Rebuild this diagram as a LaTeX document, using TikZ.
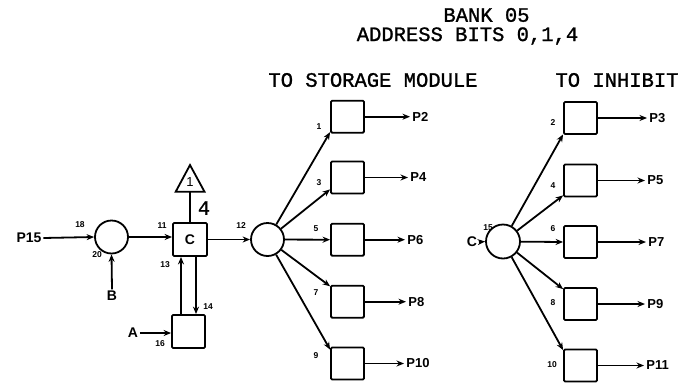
\documentclass[tikz,border=0pt]{standalone}
\usepackage{fontspec}
\setsansfont{Liberation Sans}
\newfontfamily\monofam[FakeBold=1.2]{Liberation Mono}
\usetikzlibrary{arrows.meta}
\begin{document}
\begin{tikzpicture}[x=1pt,y=-1pt,
  line width=1.8pt,
  arr/.style={-{Stealth[length=7.5pt,width=6pt]}},
  circ/.style={draw,circle,minimum size=33pt,inner sep=0pt},
  bx/.style={draw,rectangle,rounded corners=1.2pt,minimum width=33pt,minimum height=32pt,inner sep=0pt},
  hdr/.style={font=\monofam\fontsize{20.5}{22}\selectfont,inner sep=0pt},
  big/.style={font=\sffamily\bfseries\fontsize{14}{15}\selectfont,inner sep=1pt},
  outl/.style={font=\sffamily\bfseries\fontsize{13}{14}\selectfont,inner sep=1.5pt,anchor=west},
  num/.style={font=\sffamily\bfseries\fontsize{8.5}{9}\selectfont,inner sep=0pt}]
\useasboundingbox (0,0) rectangle (687,383);

% headers
\node[hdr] (bank) at (486.5,15) {BANK 05};
\node[hdr] (addr) at (467.5,36) {ADDRESS BITS 0,1,4};
\node[hdr] (tsm) at (373,80) {TO STORAGE MODULE};
\node[hdr] (tinh) at (617,80) {TO INHIBIT};

% left section
\node[big] (p15) at (29,238) {P15};
\node[circ] (c1) at (111.5,237) {};
\node[num] (n18) at (80,225) {18};
\node[num] (n20) at (97,255) {20};
\node[big] (bb) at (112,296) {B};
\node[bx,minimum width=34pt,minimum height=33pt] (cb) at (190,239.5) {\sffamily\bfseries\fontsize{14}{15}\selectfont C};
\node[num] (n11) at (162,226) {11};
\draw (175.7,191.7) -- (190,165) -- (204.5,191.7) -- cycle;
\node[font=\sffamily\fontsize{13}{14}\selectfont,inner sep=0pt] (t1) at (190,182) {1};
\coordinate (tbase) at (190,191.7);
\node[hdr] (four) at (204,208) {4};
\node[num] (n12) at (241,226) {12};
\node[num] (n13) at (165,265) {13};
\node[num] (n14) at (208,307) {14};
\node[bx,minimum width=33pt,minimum height=33pt] (ab) at (188.5,331.5) {};
\node[big] (aa) at (133,333) {A};
\node[num] (n16) at (160,344) {16};

\draw[arr] (p15.east) -- (c1.west);
\draw[arr] (bb.north) -- (c1.south);
\draw[arr] (c1.east) -- (cb.west |- c1.east);
\draw (tbase) -- (cb.north);
\draw[arr] (ab.north -| 181,0) -- (cb.south -| 181,0);
\draw[arr] (cb.south -| 196,0) -- (ab.north -| 196,0);
\draw[arr] (aa.east) -- (ab.west |- aa.east);

% middle section
\node[circ] (c2) at (267.5,239.5) {};
\draw[arr] (cb.east |- c2.west) -- (c2.west);
\foreach \i/\y/\lx/\ly/\p/\px in {1/116.7/319/127/P2/410, 3/177.5/319/183/P4/408, 5/239.7/316/229/P6/405, 7/301.7/316/293/P8/406, 9/363.5/316/356/P10/404}{
  \node[bx] (m\i) at (347.5,\y) {};
  \node[num] (ml\i) at (\lx,\ly) {\i};
  \node[outl] (mp\i) at (\px,\y) {\p};
  \draw[arr] (m\i.east) -- (mp\i.west);
}
\draw[arr] (c2) -- ([yshift=1.5pt]m1.south west);
\draw[arr] (c2) -- ([yshift=5pt]m3.south west);
\draw[arr] (c2) -- (m5.west);
\draw[arr] (c2) -- ([yshift=-1.5pt]m7.north west);
\draw[arr] (c2) -- ([yshift=-3pt]m9.north west);

% right section
\node[big] (cc) at (472,242) {C};
\node[circ,minimum size=34pt] (c3) at (503,241.5) {};
\node[num] (n15) at (488,228) {15};
\draw[arr] (cc.east) -- (c3.west);
\foreach \i/\y/\lx/\p/\px in {2/118/553/P3/647, 4/180.5/553/P5/645, 6/242/553/P7/646, 8/304/553/P9/645, 10/365.5/552/P11/644}{
  \node[bx] (r\i) at (580.5,\y) {};
  \node[outl] (rp\i) at (\px,\y) {\p};
  \draw[arr] (r\i.east) -- (rp\i.west);
}
\node[num] (rl2) at (553,123) {2};
\node[num] (rl4) at (553,186) {4};
\node[num] (rl6) at (553,229) {6};
\node[num] (rl8) at (553,303) {8};
\node[num] (rl10) at (552,365) {10};
\draw[arr] (c3) -- ([yshift=0.5pt]r2.south west);
\draw[arr] (c3) -- ([yshift=2pt]r4.south west);
\draw[arr] (c3) -- (r6.west);
\draw[arr] (c3) -- ([yshift=-2pt]r8.north west);
\draw[arr] (c3) -- ([yshift=-1.5pt]r10.north west);
\end{tikzpicture}
\end{document}
